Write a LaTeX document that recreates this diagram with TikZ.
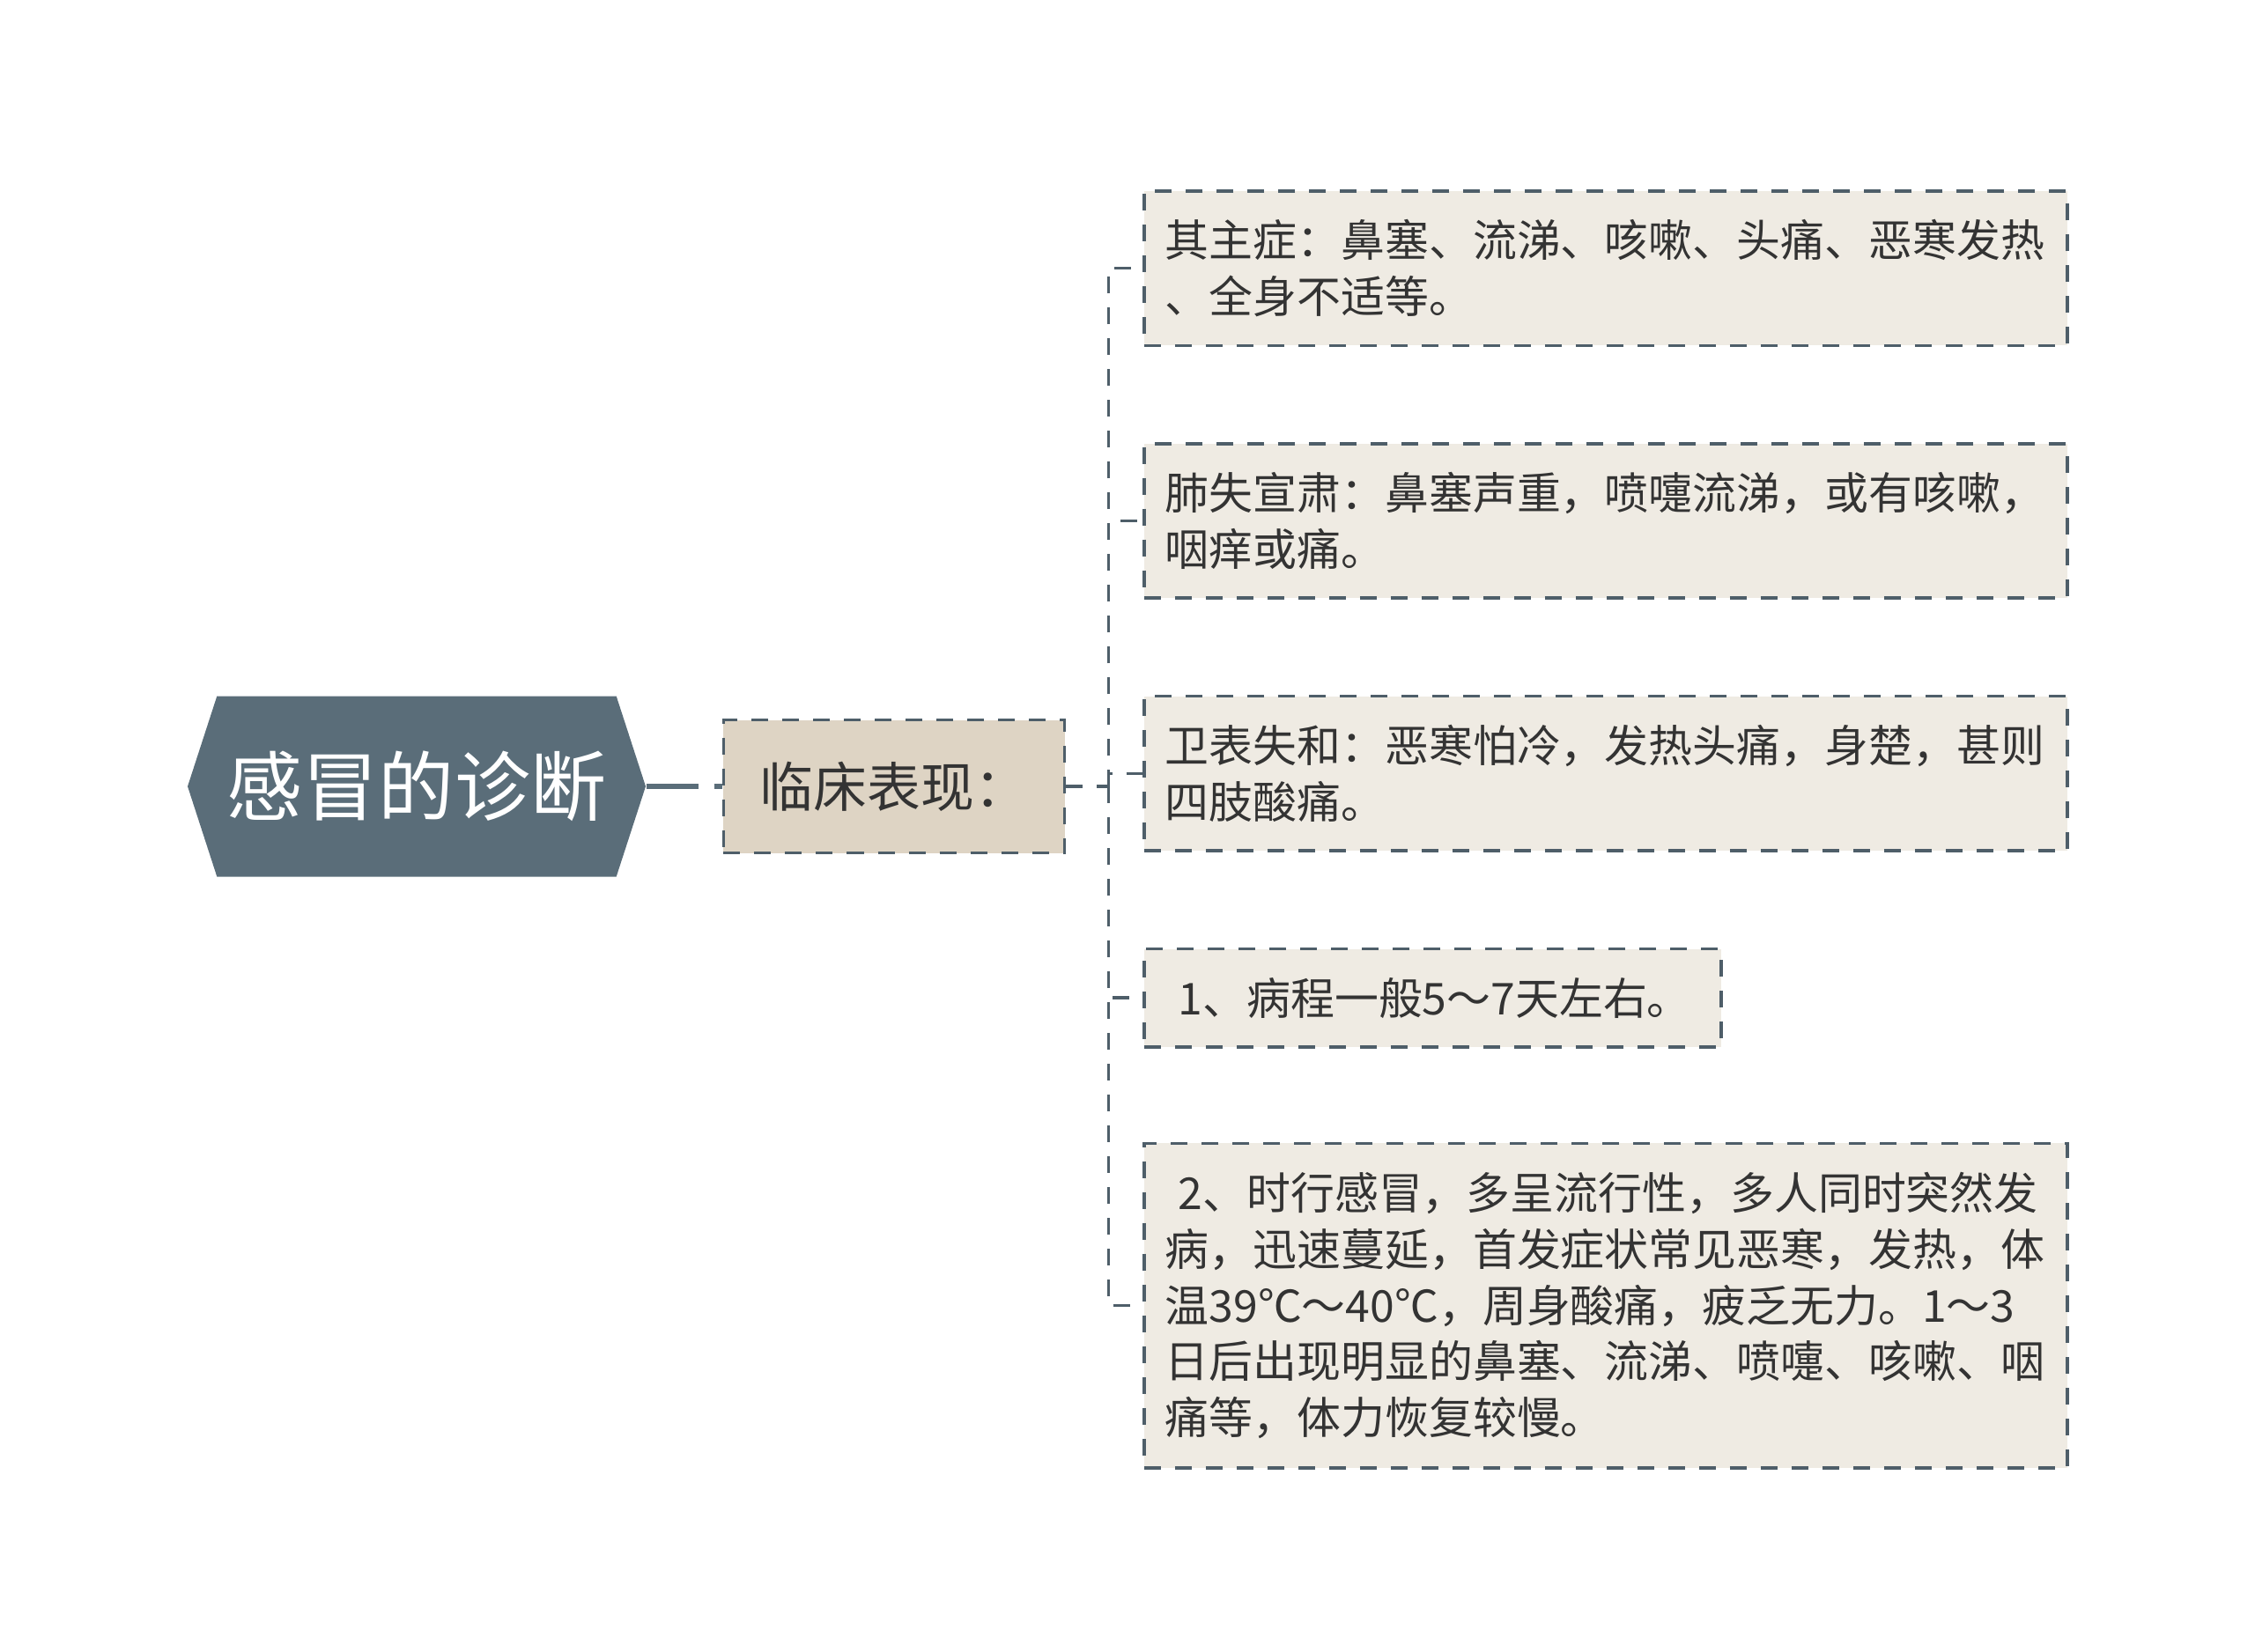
\documentclass[tikz,border=0pt]{standalone}
\usepackage{xcolor}
\usepackage{fontspec}
\setmainfont{Noto Sans CJK SC}
\usepackage{tikz}
\usetikzlibrary{shapes, calc, positioning}
\definecolor{slate}{HTML}{5A6D79}
\definecolor{edgegray}{HTML}{4E5E69}
\definecolor{sand}{HTML}{DED4C4}
\definecolor{paper}{HTML}{EFEBE3}
\definecolor{ink}{HTML}{333333}
\tikzset {
    root/.style = {
        shape = signal,
        signal to = west and east,
        signal pointer angle = 144,
        fill = slate,
        text = white,
        minimum width = 52mm,
        minimum height = 20.5mm,
        inner sep = 0pt,
        font = \fontsize{24.5}{29}\selectfont
    },
    topic/.style = {
        draw = edgegray,
        fill = sand,
        text = ink,
        dash pattern = on 1.9mm off 1.6mm,
        line width = 0.35mm,
        minimum width = 38.7mm,
        minimum height = 15.1mm,
        font = \fontsize{17.3}{21}\selectfont
    },
    leaf/.style = {
        draw = edgegray,
        fill = paper,
        text = ink,
        dash pattern = on 1.9mm off 1.6mm,
        line width = 0.35mm,
        text width = #1,
        align = left,
        inner xsep = 2.4mm,
        inner ysep = 3.25mm,
        font = \fontsize{14.2}{18.2}\selectfont
    },
    leaf/.default = 100mm,
    link/.style = {
        draw = slate,
        line width = 0.55mm,
        dash pattern = on 5.9mm off 1.8mm
    },
    twig/.style = {
        draw = edgegray,
        line width = 0.35mm,
        dash pattern = on 1.9mm off 1.6mm
    }
}
\begin{document}
\begin{tikzpicture}
        \useasboundingbox (0,0) rectangle (256mm,-187.5mm);

        % Root and first level
        \node [root] at (47.3mm, -89.3mm)                          (diag)    {感冒的诊断};
        \node [topic, right=8.6mm of diag]                          (clinic)  {临床表现：};
        \coordinate [right=4.8mm of clinic.east]                    (fork);

        % Leaves : one under another, left edges aligned
        \node [leaf, anchor=north west] at (129.7mm, -21.5mm)       (major)   {其主症：鼻塞、流涕、咳嗽、头痛、恶寒发热\\、全身不适等。};
        \node [leaf, below=10.8mm of major.south west, anchor=north west]   (lung)    {肺失宣肃：鼻塞声重，喷嚏流涕，或有咳嗽，\\咽痒或痛。};
        \node [leaf, below=10.8mm of lung.south west, anchor=north west]    (guard)   {卫表失和：恶寒怕冷，发热头痛，身楚，甚则\\四肢酸痛。};
        \node [leaf=60.7mm, below=10.8mm of guard.south west, anchor=north west] (course) {\hspace*{0.3em}1、病程一般5～7天左右。};
        \node [leaf, below=10.6mm of course.south west, anchor=north west]  (flu)     {\hspace*{0.3em}2、时行感冒，多呈流行性，多人同时突然发\\病，迅速蔓延，首发症状常见恶寒，发热，体\\温39℃～40℃，周身酸痛，疲乏无力。1～3\\日后出现明显的鼻塞、流涕、喷嚏、咳嗽、咽\\痛等，体力恢复较慢。};

        \path [link]    (diag.east)     --  (clinic.west);
        \path [twig]    (clinic.east)   --  (fork);

        \path [twig]    (fork)  |-  (major.west);
        \path [twig]    (fork)  |-  (lung.west);
        \path [twig]    (fork)  |-  (guard.west);
        \path [twig]    (fork)  |-  (course.west);
        \path [twig]    (fork)  |-  (flu.west);
\end{tikzpicture}
\end{document}
